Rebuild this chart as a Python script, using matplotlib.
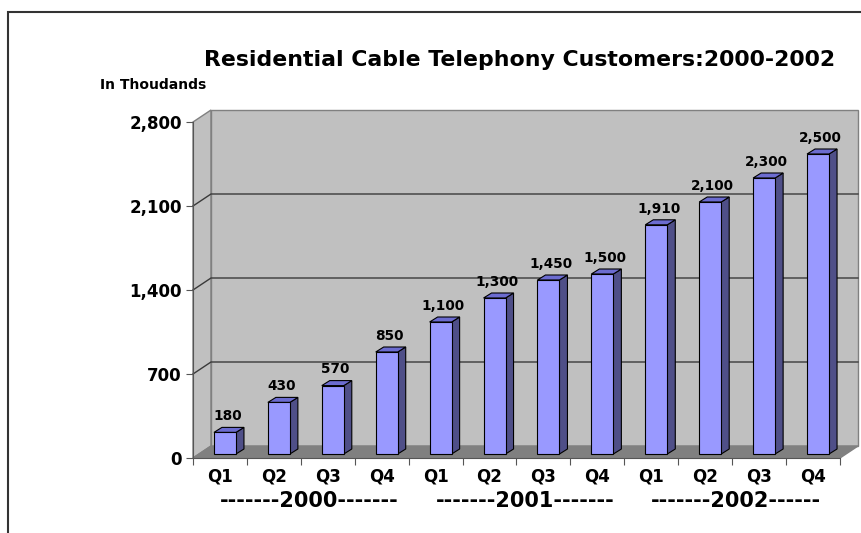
import matplotlib

matplotlib.use("Agg")
import matplotlib.pyplot as plt
from matplotlib.patches import Polygon, Rectangle

quarters = ["Q1", "Q2", "Q3", "Q4"] * 3
customers = [180, 430, 570, 850, 1100, 1300, 1450, 1500, 1910, 2100, 2300, 2500]
year_labels = ["-------2000-------", "-------2001-------", "-------2002------"]
y_ticks = [0, 700, 1400, 2100, 2800]
y_max = 2800

plt.rcParams["font.family"] = ["DejaVu Sans"]
plt.rcParams["font.weight"] = "bold"

W, H = 862, 533
fig = plt.figure(figsize=(W / 100, H / 100), dpi=100)

# front plane of the 3d box, in pixels
left_px, right_px, top_px, bottom_px = 193, 840, 122, 458
ax = fig.add_axes([left_px / W, 1 - bottom_px / H,
                   (right_px - left_px) / W, (bottom_px - top_px) / H])
n = len(customers)
ax.set_xlim(0, n)
ax.set_ylim(0, y_max)

px_x = n / (right_px - left_px)      # data units per pixel, x
px_y = y_max / (bottom_px - top_px)  # data units per pixel, y


def off(dx, dy):
    return dx * px_x, dy * px_y


# wall depth
wx, wy = off(18, 12)
# bar placement inside the depth, and bar depth
bx, by = off(5, 4)
sx, sy = off(8, 5)
bar_w = 22 * px_x

wall = "#c0c0c0"
edge = "#808080"
kw = dict(clip_on=False)

ax.add_patch(Polygon([(0, 0), (0, y_max), (wx, y_max + wy), (wx, wy)],
                     closed=True, fc=wall, ec=edge, lw=1, zorder=1, **kw))
ax.add_patch(Rectangle((wx, wy), n, y_max, fc=wall, ec=edge, lw=1, zorder=1, **kw))
ax.add_patch(Polygon([(0, 0), (n, 0), (n + wx, wy), (wx, wy)],
                     closed=True, fc="#808080", ec="#808080", lw=1, zorder=1.5, **kw))

for v in y_ticks[1:-1]:
    ax.plot([0, wx, n + wx], [v, v + wy, v + wy], color="#3a3a3a", lw=1,
            zorder=1.2, clip_on=False)

front_c = "#9999ff"
side_c = "#4f4f88"
top_c = "#6c6cd0"
for i, v in enumerate(customers):
    x0 = i + 0.5 - bar_w / 2 + bx
    x1 = x0 + bar_w
    y0 = by
    y1 = v + by
    ax.add_patch(Polygon([(x1, y0), (x1 + sx, y0 + sy), (x1 + sx, y1 + sy), (x1, y1)],
                         closed=True, fc=side_c, ec="black", lw=0.8, zorder=3, **kw))
    ax.add_patch(Polygon([(x0, y1), (x1, y1), (x1 + sx, y1 + sy), (x0 + sx, y1 + sy)],
                         closed=True, fc=top_c, ec="black", lw=0.8, zorder=3, **kw))
    ax.add_patch(Rectangle((x0, y0), bar_w, v, fc=front_c, ec="black", lw=0.8,
                           zorder=4, **kw))
    ax.annotate(f"{v:,}", (x0 + bar_w / 2 + sx / 3, y1 + sy), xytext=(0, 3),
                textcoords="offset points", ha="center", va="bottom",
                fontsize=9.8, fontweight="bold", zorder=5)

ax.set_facecolor("none")
for s in ("top", "right"):
    ax.spines[s].set_visible(False)
for s in ("left", "bottom"):
    ax.spines[s].set_color("#555555")
    ax.spines[s].set_zorder(2)

ax.set_yticks(y_ticks)
ax.set_yticklabels([f"{t:,}" for t in y_ticks], fontsize=12, fontweight="bold")
ax.set_xticks(range(n + 1))
ax.set_xticklabels([])
ax.set_xticks([i + 0.5 for i in range(n)], minor=True)
ax.set_xticklabels(quarters, minor=True, fontsize=12, fontweight="bold")
ax.tick_params(axis="y", length=5, color="#555555", pad=3)
ax.tick_params(axis="x", which="major", length=5, color="#555555")
ax.tick_params(axis="x", which="minor", length=0, pad=7)

for k, lab in enumerate(year_labels):
    ax.annotate(lab, (4 * k + 0.5, 0), xytext=(0, -24), textcoords="offset points",
                ha="left", va="top", fontsize=15, fontweight="bold",
                annotation_clip=False)

fig.text(520 / W, 1 - 60 / H, "Residential Cable Telephony Customers:2000-2002",
         ha="center", va="center", fontsize=15.8, fontweight="bold")
fig.text(100 / W, 1 - 85 / H, "In Thoudands", ha="left", va="center",
         fontsize=10, fontweight="bold")

# chart area border (right and bottom edges fall outside the image)
fig.add_artist(Rectangle((8 / W, -0.1), 1.2, 1 - 12 / H + 0.1,
                         transform=fig.transFigure, fill=False, ec="#333333", lw=1.5))

fig.savefig("out.png", dpi=100, facecolor="white")
